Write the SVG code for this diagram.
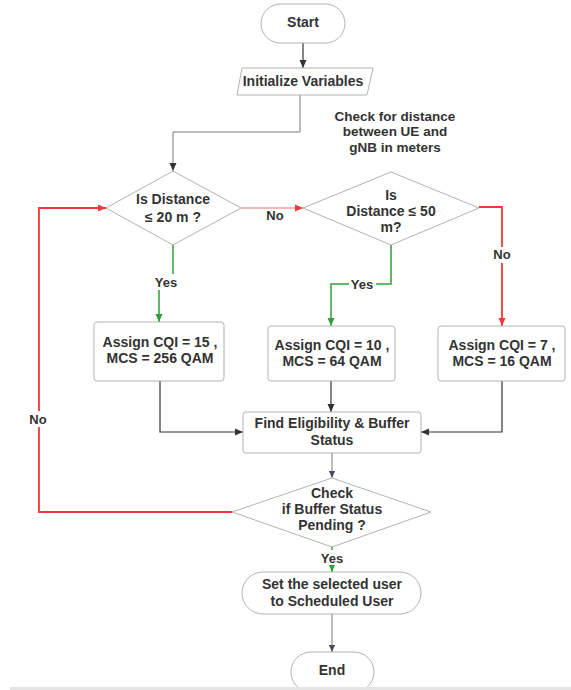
<svg xmlns="http://www.w3.org/2000/svg" width="571" height="690" viewBox="0 0 571 690">
  <style>
    .shape { fill: #ffffff; stroke: #b3b3b3; stroke-width: 1; }
    .t { font-family: "Liberation Sans", Arial, sans-serif; font-weight: bold; font-size: 14px; fill: #333333; text-anchor: middle; }
    .lbl { font-family: "Liberation Sans", Arial, sans-serif; font-weight: bold; font-size: 13px; fill: #333333; text-anchor: middle; }
    .note { font-size: 13.5px; }
    .dark { fill: none; stroke: #333333; stroke-width: 1.2; }
    .grey { fill: none; stroke: #7a7a7a; stroke-width: 1; }
    .green { fill: none; stroke: #2f9e3a; stroke-width: 1.5; }
    .red { fill: none; stroke: #f03a3a; stroke-width: 1.8; }
    .redthin { fill: none; stroke: #f07070; stroke-width: 1.2; }
    .bg { fill: #ffffff; }
  </style>
  <defs>
    <marker id="arrDark" viewBox="0 0 8 8" refX="8" refY="4" markerWidth="8" markerHeight="8" markerUnits="userSpaceOnUse" orient="auto">
      <path d="M0,0.5 L8,4 L0,7.5 Z" fill="#333333"/>
    </marker>
    <marker id="arrGrey" viewBox="0 0 8 8" refX="8" refY="4" markerWidth="7" markerHeight="7" markerUnits="userSpaceOnUse" orient="auto">
      <path d="M0,0.5 L8,4 L0,7.5 Z" fill="#4a4a5a"/>
    </marker>
    <marker id="arrGreen" viewBox="0 0 8 8" refX="8" refY="4" markerWidth="8" markerHeight="8" markerUnits="userSpaceOnUse" orient="auto">
      <path d="M0,0.5 L8,4 L0,7.5 Z" fill="#2f9e3a"/>
    </marker>
    <marker id="arrRed" viewBox="0 0 8 8" refX="8" refY="4" markerWidth="8" markerHeight="8" markerUnits="userSpaceOnUse" orient="auto">
      <path d="M0,0.5 L8,4 L0,7.5 Z" fill="#f03a3a"/>
    </marker>
  </defs>

  <rect width="571" height="690" fill="#ffffff"/>

  <!-- connectors -->
  <g id="connectors">
    <path class="dark" d="M303,43 V68" marker-end="url(#arrDark)"/>
    <path class="grey" d="M300,95 V132 H173 V171" marker-end="url(#arrDark)"/>
    <path class="redthin" d="M241,208 H303" marker-end="url(#arrRed)"/>
    <path class="green" d="M173,245 V279 H159 V322" marker-end="url(#arrGreen)"/>
    <path class="green" d="M391,245 V284 H331 V326" marker-end="url(#arrGreen)"/>
    <path class="red" d="M479,207 H502 V326" marker-end="url(#arrRed)"/>
    <path class="dark" d="M160,381 V432 H243" marker-end="url(#arrDark)"/>
    <path class="dark" d="M502,381 V432 H421" marker-end="url(#arrDark)"/>
    <path class="dark" d="M331,381 V412" marker-end="url(#arrDark)"/>
    <path class="grey" d="M332,453 V478" marker-end="url(#arrGrey)"/>
    <path class="red" d="M232,512 H39 V208 H106" marker-end="url(#arrRed)"/>
    <path class="green" d="M332,547 V572" marker-end="url(#arrGreen)"/>
    <path class="grey" d="M332,614 V652" marker-end="url(#arrGrey)"/>

    <!-- branch labels -->
    <text class="lbl" x="275" y="220">No</text>
    <rect class="bg" x="153" y="274" width="27" height="16"/>
    <text class="lbl" x="166" y="287">Yes</text>
    <rect class="bg" x="349" y="277" width="27" height="15"/>
    <text class="lbl" x="362" y="289">Yes</text>
    <rect class="bg" x="490" y="247" width="24" height="16"/>
    <text class="lbl" x="502" y="259">No</text>
    <rect class="bg" x="26" y="411" width="24" height="16"/>
    <text class="lbl" x="38" y="424">No</text>
    <rect class="bg" x="318" y="550" width="28" height="15"/>
    <text class="lbl" x="332" y="563">Yes</text>
  </g>

  <!-- nodes -->
  <g id="start">
    <rect class="shape" x="261" y="4" width="84" height="39" rx="19.5"/>
    <text class="t" x="303" y="27">Start</text>
  </g>

  <g id="init">
    <polygon class="shape" points="242,68 373,68 367,95 237,95"/>
    <text class="t" x="303" y="86">Initialize Variables</text>
  </g>

  <g id="note">
    <text class="t note" x="395" y="121">Check for distance</text>
    <text class="t note" x="395" y="136">between UE and</text>
    <text class="t note" x="395" y="152">gNB in meters</text>
  </g>

  <g id="dist20">
    <polygon class="shape" points="173,171 241,208 173,245 106,208"/>
    <text class="t" x="173" y="204">Is Distance</text>
    <text class="t" x="173" y="222">≤ 20 m ?</text>
  </g>

  <g id="dist50">
    <polygon class="shape" points="391,172 479,208 391,245 303,208"/>
    <text class="t" x="391" y="200">Is</text>
    <text class="t" x="391" y="216">Distance ≤ 50</text>
    <text class="t" x="391" y="232">m?</text>
  </g>

  <g id="cqi15">
    <rect class="shape" x="94" y="322" width="130" height="59" rx="3"/>
    <text class="t" x="160" y="347">Assign CQI = 15 ,</text>
    <text class="t" x="160" y="363">MCS = 256 QAM</text>
  </g>

  <g id="cqi10">
    <rect class="shape" x="268" y="326" width="127" height="55" rx="3"/>
    <text class="t" x="332" y="350">Assign CQI = 10 ,</text>
    <text class="t" x="332" y="366">MCS = 64 QAM</text>
  </g>

  <g id="cqi7">
    <rect class="shape" x="438" y="326" width="127" height="55" rx="3"/>
    <text class="t" x="502" y="350">Assign CQI = 7 ,</text>
    <text class="t" x="502" y="366">MCS = 16 QAM</text>
  </g>

  <g id="eligibility">
    <rect class="shape" x="243" y="412" width="178" height="41" rx="3"/>
    <text class="t" x="332" y="428">Find Eligibility &amp; Buffer</text>
    <text class="t" x="332" y="445">Status</text>
  </g>

  <g id="pending">
    <polygon class="shape" points="332,478 431,512 332,547 232,512"/>
    <text class="t" x="332" y="498">Check</text>
    <text class="t" x="332" y="514">if Buffer Status</text>
    <text class="t" x="332" y="530">Pending ?</text>
  </g>

  <g id="schedule">
    <rect class="shape" x="242" y="572" width="179" height="42" rx="21"/>
    <text class="t" x="332" y="589">Set the selected user</text>
    <text class="t" x="332" y="606">to Scheduled User</text>
  </g>

  <g id="end">
    <rect class="shape" x="291" y="652" width="83" height="40" rx="20"/>
    <text class="t" x="332" y="675">End</text>
  </g>

  <!-- page edge -->
  <rect x="10" y="687" width="561" height="3" fill="#e4e4e4"/>
</svg>
